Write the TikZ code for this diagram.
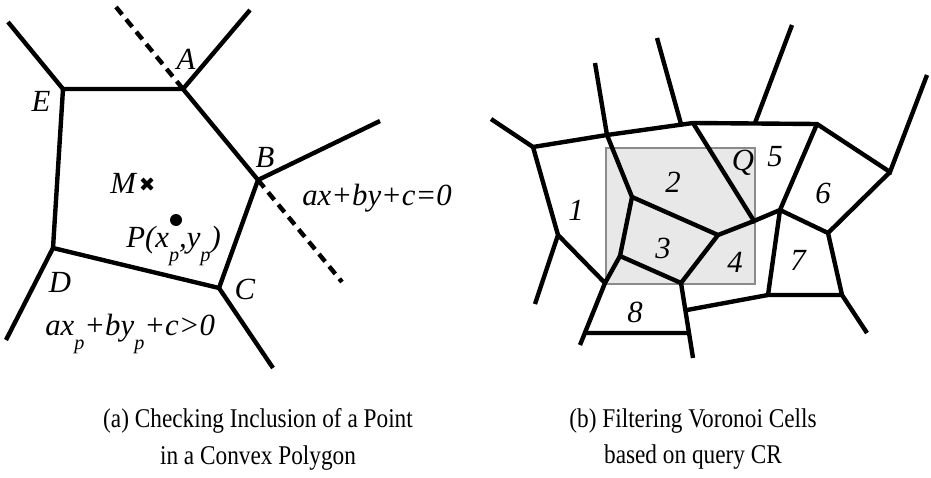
\documentclass[tikz,border=0pt]{standalone}
\usepackage{fontspec}
\setmainfont{Liberation Serif}
\newfontfamily\capfont[FakeStretch=0.86]{Liberation Serif}
\usetikzlibrary{positioning,calc}
\definecolor{qgray}{HTML}{E8E8E8}
\newcommand{\lowsub}[1]{\raisebox{-8pt}{\fontsize{11.5}{11.5}\selectfont #1}}

\begin{document}
\begin{tikzpicture}[x=0.2mm,y=-0.2mm,
  edge/.style={line width=2.5pt},
  cut/.style={line width=2.5pt,dash pattern=on 5.5pt off 3.6pt},
  lbl/.style={font=\fontsize{17.5}{19}\selectfont\itshape,inner sep=0pt},
  caption/.style={font=\fontsize{15.4}{21}\selectfont\capfont,align=center,inner sep=0pt}]
\useasboundingbox (0,0) rectangle (931,477);
% (a) convex polygon
\coordinate (A) at (183,89);   \coordinate (Ao) at (250,10);
\coordinate (B) at (258,180);  \coordinate (Bo) at (380,121);
\coordinate (C) at (219,288);  \coordinate (Co) at (273,368);
\coordinate (D) at (53,248);   \coordinate (Do) at (6,340);
\coordinate (E) at (63,89);    \coordinate (Eo) at (8,22);
\coordinate (cutA) at (116,7); \coordinate (cutB) at (342,282);
\draw[edge] (E) -- (A) -- (B) -- (C) -- (D) -- cycle;
\draw[edge] (A) -- (Ao) (B) -- (Bo) (C) -- (Co) (D) -- (Do) (E) -- (Eo);
\draw[cut] (cutA) -- (A) (B) -- (cutB);
\node[lbl] (labA) at (186,59) {A};
\node[lbl] (labB) at (265,157) {B};
\node[lbl] (labC) at (245,289) {C};
\node[lbl] (labD) at (60,282) {D};
\node[lbl] (labE) at (41,101) {E};
\node[lbl,anchor=base west] (labM) at (110,193) {M};
\coordinate (M) at (147,184);
\draw[line width=2.4pt] ($(M)+(-5,-5)$) -- ($(M)+(5,5)$) ($(M)+(-5,5)$) -- ($(M)+(5,-5)$);
\fill (176,220) circle (6) coordinate (P);
\node[lbl,anchor=base west] (labP) at (126,247) {P(x\lowsub{p},y\lowsub{p})};
\node[lbl,anchor=base west] (line) at (302,205) {ax+by+c=0};
\node[lbl,anchor=base west] (ineq) at (45,335) {ax\lowsub{p}+by\lowsub{p}+c>0};
% (b) voronoi cells and query CR
\draw[qgray!60!black,fill=qgray,line width=0.8pt] (606,148) rectangle (755,284);
\coordinate (r1o) at (491,119); \coordinate (r1) at (533,147);
\coordinate (t1o) at (595,63);  \coordinate (t1) at (607,135);
\coordinate (t2o) at (657,38);  \coordinate (t2) at (681,124);
\coordinate (t3) at (693,123);
\coordinate (q5o) at (792,25);  \coordinate (q5) at (755,123);
\coordinate (s5) at (817,124);
\coordinate (s6o) at (927,75);  \coordinate (s6) at (890,172);
\coordinate (s6b) at (828,233); \coordinate (s5b) at (780,210);
\coordinate (s2) at (754,221);  \coordinate (s4) at (718,235);
\coordinate (s3a) at (632,197); \coordinate (s3b) at (620,256);
\coordinate (s3c) at (681,283); \coordinate (s1) at (558,235);
\coordinate (s1o) at (535,304); \coordinate (s8) at (605,283);
\coordinate (s8o) at (580,345); \coordinate (s8l) at (583,333);
\coordinate (s8r) at (688,333); \coordinate (s8ro) at (693,358);
\coordinate (s8e) at (687,310); \coordinate (s7a) at (768,295);
\coordinate (s7b) at (842,295); \coordinate (s7o) at (867,333);
\draw[edge] (r1o) -- (r1) -- (t1) -- (t3) -- (s5) -- (s6) -- (s6o);
\draw[edge] (t1o) -- (t1) -- (s3a) -- (s3b) -- (s3c) -- (s8ro);
\draw[edge] (t2o) -- (t2) (q5o) -- (q5);
\draw[edge] (t3) -- (s2) -- (s5b) -- (s5) (s5b) -- (s6b) -- (s6);
\draw[edge] (s3a) -- (s4) -- (s2) (s4) -- (s3c);
\draw[edge] (r1) -- (s1) -- (s8) -- (s3b) (s1) -- (s1o) (s8) -- (s8o);
\draw[edge] (s8l) -- (s8r) (s8e) -- (s7a) -- (s5b) (s7a) -- (s7b) -- (s6b) (s7b) -- (s7o);
\foreach \n/\pos in {1/{576,210},2/{673,182},3/{663,248},4/{735,262},
  5/{775,157},6/{823,193},7/{798,260},8/{635,312},Q/{743,163}}
  \node[lbl] (cell\n) at (\pos) {\n};
% captions
\node[caption] (capa) at (258,439) {(a) Checking Inclusion of a Point\\in a Convex Polygon};
\node[caption] (capb) at (693,439) {(b) Filtering Voronoi Cells\\based on query CR};
\end{tikzpicture}
\end{document}
